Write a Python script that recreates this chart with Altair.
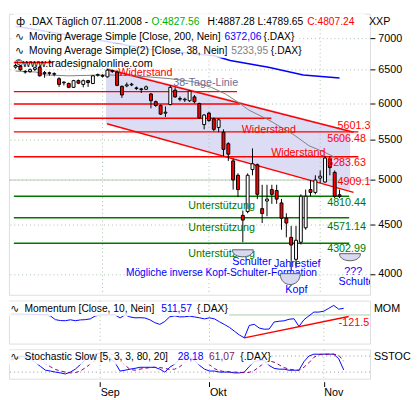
import altair as alt
import pandas as pd

FONT = "Liberation Sans"
ICON_FONT = "DejaVu Sans"

# ---------------- data ----------------
opens = [6540, 6560, 6470, 6470, 6505, 6538, 6440, 6452, 6430, 6362,
         6300, 6290, 6233, 6333, 6276, 6333, 6290, 6415, 6410, 6391,
         6485, 6464, 6248, 6255, 6270, 6225, 6210, 6205, 6135, 6024,
         5970, 5862, 5983, 6191, 6070, 6050, 6038, 6093, 5997, 5705,
         5862, 5783, 5666, 5602, 5451, 5233, 5057, 4597, 4639, 5126,
         5185, 4671, 4757, 4888, 4877, 4735, 4566, 4363, 4141, 4313,
         4463, 4888, 4855, 5023, 4977, 5256, 5092, 4827.56]
highs = [6590, 6575, 6495, 6520, 6545, 6560, 6480, 6470, 6460, 6385,
         6325, 6305, 6345, 6350, 6350, 6345, 6420, 6440, 6430, 6510,
         6500, 6490, 6260, 6305, 6300, 6245, 6225, 6260, 6150, 6040,
         5985, 5956, 6262, 6233, 6100, 6080, 6190, 6120, 6010, 5850,
         5880, 5800, 5790, 5640, 5470, 5260, 5080, 4650, 5080, 5390,
         5200, 4944, 4944, 4944, 4944, 4780, 4620, 4483, 4483, 4833,
         4888, 5000, 5057, 5115, 5292, 5292, 5115, 4887.28]
lows = [6515, 6480, 6440, 6455, 6480, 6395, 6377, 6410, 6400, 6240,
        6262, 6220, 6225, 6280, 6233, 6240, 6280, 6395, 6380, 6380,
        6450, 6250, 6079, 6235, 6250, 6195, 6150, 6195, 5929, 5950,
        5836, 5809, 5970, 6080, 6030, 6020, 6020, 6000, 5780, 5640,
        5740, 5614, 5602, 5292, 5233, 4888, 4800, 4313, 4620, 5057,
        4778, 4514, 4587, 4725, 4725, 4443, 4363, 4029, 4057, 4290,
        4443, 4811, 4833, 4966, 4966, 5057, 4789, 4789.65]
closes = [6565, 6500, 6465, 6500, 6530, 6406, 6455, 6445, 6440, 6276,
          6310, 6233, 6333, 6295, 6333, 6305, 6406, 6425, 6400, 6493,
          6475, 6262, 6121, 6270, 6280, 6215, 6200, 6240, 6038, 5970,
          5849, 5875, 6233, 6093, 6060, 6060, 6177, 6024, 5796, 5836,
          5760, 5640, 5770, 5378, 5317, 5000, 4888, 4546, 5057, 5197,
          4833, 4618, 4778, 4833, 4778, 4566, 4514, 4284, 4333, 4811,
          4811, 4855, 5000, 5046, 5268, 5150, 4811, 4807.24]

momentum = [60, 80, 70, 50, 60, 40, 30, 20, -80, -360,
            -430, -440, -370, -440, -380, -360, -300, -80, 0, 10,
            20, 10, -230, 10, -150, -220, -210, -230, -370, -590,
            -720, -500, -140, -70, -150, -140, -90, -150, -220, -300,
            -220, -300, -520, -730, -950, -1240, -1530, -1752, -800, -720,
            -1000, -1090, -1080, -540, -480, -450, -330, -290, -880, -365,
            -70, 220, 220, 290, 510, 730, 440, 511.57]

stoch_k = [65, 72, 80, 78, 68, 55, 41, 27, 24, 20,
           17, 13, 20, 31, 48, 66, 80, 88, 90, 85,
           72, 55, 24, 27, 31, 34, 38, 38, 38, 38,
           31, 20, 38, 50, 68, 73, 72, 63, 45, 31,
           24, 24, 20, 20, 20, 17, 17, 20, 41, 59,
           63, 63, 45, 34, 31, 31, 27, 27, 27, 59,
           80, 87, 87, 87, 87, 87, 70, 28.18]
stoch_d = [68, 70, 72, 76, 78, 74, 64, 52, 40, 30,
           24, 20, 17, 18, 24, 36, 50, 64, 78, 86,
           88, 82, 62, 46, 30, 27, 31, 34, 37, 38,
           37, 34, 30, 31, 40, 55, 68, 74, 72, 62,
           48, 33, 25, 22, 21, 20, 19, 18, 19, 26,
           40, 54, 62, 57, 47, 37, 31, 28, 27, 38,
           55, 75, 85, 87, 87, 87, 83, 61.07]

month_pos = [18, 40, 63]
month_names = ["Sep", "Okt", "Nov"]
price_ticks = [4000, 4500, 5000, 5500, 6000, 6500, 7000]

ma38_idx = [0, 4.2, 6.1, 11, 18.9, 24.8, 32, 36.6, 40.5, 43.4, 45.8, 48.3, 52.3, 57.6, 60.7, 64, 67]
ma38_val = [6479, 6464, 6420, 6406, 6420, 6406, 6362, 6319, 6233, 6135, 6026, 5903, 5770, 5566, 5424, 5339, 5250]
ma200_idx = [0, 18.9, 27.3, 41.1, 44.4, 52.3, 59.5, 67]
ma200_val = [7209, 6952, 6826, 6719, 6643, 6538, 6420, 6372]

res_levels = [6612, 6170, 5990, 5790, 5606.48, 5283.63]
res_end = [7.7, 45.8, 46.4, 52.9, 70.9, 70.9]
sup_levels = [4810.44, 4571.14, 4302.99]
sup_end = [69.0, 69.0, 69.0]

chan_idx = [18.9, 69.9]
chan_upper = [6508, 5601]
chan_lower = [5717, 4855]
band_idx = [18.7, 69.2]
band_top = [6538, 5627]
band_bot = [5718, 4877]

mom_trend_idx = [47, 68]
mom_trend_val = [-1752, -121.5]

# ---------------- scales / helpers ----------------
XMIN, XMAX = -0.35, 72.3
RED, GREEN, BLUE = "#ff0000", "#007800", "#0000ff"
GRID = "#a9bfa9"
HDR = 10.5
xs = alt.Scale(domain=[XMIN, XMAX], nice=False, zero=False)
ys = alt.Scale(type="log", domain=[3806, 7425], nice=False, zero=False)
ms = alt.Scale(domain=[-2190, 1095], nice=False, zero=False)
ss = alt.Scale(domain=[-4.7, 104.7], nice=False, zero=False)

yax = alt.Axis(orient="right", values=price_ticks, format="d", title=None, domain=False,
               tickSize=5, tickColor="black", labelPadding=3, labelFont=FONT, labelFontSize=11,
               labelColor="black", grid=True, gridColor=GRID, gridDash=[1, 3])
label_expr = " : ".join(f"datum.value == {p} ? '{m}'" for p, m in zip(month_pos[:-1], month_names[:-1])) + f" : '{month_names[-1]}'"
xax = alt.Axis(values=month_pos, labelExpr=label_expr, title=None, domain=False, grid=False,
               tickSize=5, tickColor="black", labelAlign="left", labelBaseline="top", labelPadding=0,
               labelFont=FONT, labelFontSize=11, labelColor="black", offset=3)


def X(f):
    return alt.X(f, type="quantitative", scale=xs, axis=None)


def XS(f):
    return alt.X(f, type="quantitative", scale=xs, axis=xax)


def YP(f):
    return alt.Y(f, type="quantitative", scale=ys, axis=yax)


def YM(f):
    return alt.Y(f, type="quantitative", scale=ms, axis=None)


def YS(f):
    return alt.Y(f, type="quantitative", scale=ss, axis=None)


def texts(rows, xf, yf, align="left", size=11, clip=False, font=FONT):
    df = pd.DataFrame(rows, columns=["t", "x", "y", "col"])
    return alt.Chart(df).mark_text(align=align, baseline="middle", font=font, fontSize=size, clip=clip).encode(
        x=xf("x"), y=yf("y"), text="t:N", color=alt.Color("col:N", scale=None))


# ---------------- main price panel ----------------
n = len(closes)
candles = pd.DataFrame({"i": list(range(n)), "o": opens, "h": highs, "l": lows, "c": closes})

band = alt.Chart(pd.DataFrame({"i": band_idx, "top": band_top, "bot": band_bot})).mark_area(
    color="#dcdcf4").encode(x=X("i"), y=YP("bot"), y2=alt.Y2("top"))
vgrid = pd.DataFrame({"i": month_pos})
vgrid_main = alt.Chart(vgrid).mark_rule(color=GRID, strokeDash=[1, 3]).encode(x=X("i"))
line5000 = alt.Chart(pd.DataFrame({"v": [5000]})).mark_rule(color="#b8c8b8").encode(y=YP("v"))
hl = pd.DataFrame({"x1": [XMIN] * 9, "x2": res_end + sup_end, "v": res_levels + sup_levels,
                   "col": [RED] * 6 + [GREEN] * 3})
hlines = alt.Chart(hl).mark_rule(strokeWidth=1.5).encode(
    x=X("x1"), x2=alt.X2("x2"), y=YP("v"), color=alt.Color("col:N", scale=None))
ch = pd.DataFrame({"x1": [chan_idx[0]] * 2, "x2": [chan_idx[1]] * 2,
                   "v1": [chan_upper[0], chan_lower[0]], "v2": [chan_upper[1], chan_lower[1]]})
chan = alt.Chart(ch).mark_rule(color=RED, strokeWidth=1.5).encode(
    x=X("x1"), x2=alt.X2("x2"), y=YP("v1"), y2=alt.Y2("v2"))
ma38 = alt.Chart(pd.DataFrame({"i": ma38_idx, "v": ma38_val})).mark_line(
    color="#808080", strokeWidth=1).encode(x=X("i"), y=YP("v"))
ma200 = alt.Chart(pd.DataFrame({"i": ma200_idx, "v": ma200_val})).mark_line(
    color=BLUE, strokeWidth=1.5).encode(x=X("i"), y=YP("v"))
wicks = alt.Chart(candles).mark_rule(color="black", strokeWidth=1).encode(
    x=X("i"), y=YP("l"), y2=alt.Y2("h"))
bodies = alt.Chart(candles).mark_bar(size=3, stroke="black", strokeWidth=1).encode(
    x=X("i"), y=YP("o"), y2=alt.Y2("c"),
    fill=alt.condition("datum.c >= datum.o", alt.value("white"), alt.value(RED)))

hb = pd.DataFrame({"x1": [XMIN] * 3, "x2": [XMAX, 58.2, 59.5],
                   "y1": [7425, 7160, 6920], "y2": [7160, 6920, 6688]})
hboxes = alt.Chart(hb).mark_rect(color="white", opacity=0.85).encode(
    x=X("x1"), x2=alt.X2("x2"), y=YP("y1"), y2=alt.Y2("y2"))

hdr_icons = texts([
    ["ф", 0.1, 7274, "black"],
    ["∿", -0.1, 7032, "black"],
    ["∿", -0.1, 6795, "black"],
], X, YP, size=11, font=ICON_FONT)
hdr = texts([
    [".DAX Täglich  07.11.2008 -", 2.79, 7274, "black"],
    [f"O:{opens[-1]:.2f}", 28.12, 7274, "#00b000"],
    [f"H:{highs[-1]:.2f} L:{lows[-1]:.2f}", 39.7, 7274, "black"],
    [f"C:{closes[-1]:.2f}", 60.32, 7274, RED],
    ["Moving Average Simple [Close, 200, Nein]", 2.79, 7032, "black"],
    ["6372,06", 43.2, 7032, BLUE],
    ["{.DAX}", 51.3, 7032, "black"],
    ["Moving Average Simple(2) [Close, 38, Nein]", 2.79, 6795, "black"],
    ["5233,95", 44.6, 6795, "#808080"],
    ["{.DAX}", 52.8, 6795, "black"],
], X, YP, size=HDR)
xxp = texts([["XXP", 73.08, 7274, "black"]], X, YP, size=11)

ann = texts([
    ["©www.tradesignalonline.com", -0.15, 6590, "black"],
    ["Widerstand", 21.25, 6455, RED],
    ["38-Tage-Linie", 32.6, 6304, "#6e6e96"],
    ["Widerstand", 46.77, 5627, RED],
    ["Widerstand", 52.86, 5329, RED],
    ["5606.48", 64.45, 5513, RED],
    ["5283.63", 64.45, 5209, RED],
    ["4810.44", 64.45, 4735, GREEN],
    ["4571.14", 64.45, 4473, GREEN],
    ["4302.99", 64.45, 4245, GREEN],
    ["Unterstützung", 35.72, 4702, GREEN],
    ["Unterstützung", 35.72, 4463, GREEN],
    ["Unterstützung", 35.72, 4197, GREEN],
    ["Schulter", 44.81, 4110, BLUE],
    ["Jahrestief", 53.45, 4090, BLUE],
    ["Kopf", 55.8, 3850, BLUE],
    ["???", 67.98, 4022, BLUE],
], X, YP)
ann_long = texts([["Mögliche inverse Kopf-Schulter-Formation", 22.82, 4008, BLUE]], X, YP, size=10.5)
ann_clip = texts([
    ["5601.39", 66.6, 5691, RED],
    ["4909.12", 66.6, 4977, RED],
    ["Schulter", 66.8, 3920, BLUE],
], X, YP, clip=True)

bowl = "M-1,0C-1,0.9 1,0.9 1,0Z"
bowl_deep = "M-1,0C-1,1.45 1,1.45 1,0Z"
shoulders = alt.Chart(pd.DataFrame({"i": [47.0, 69.16], "v": [4236, 4197]})).mark_point(
    shape=bowl, size=460, filled=True, fill="#d8d8f0", stroke="#606060", strokeWidth=1, opacity=1
).encode(x=X("i"), y=YP("v"))
head = alt.Chart(pd.DataFrame({"i": [56.8], "v": [4002]})).mark_point(
    shape=bowl_deep, size=420, filled=True, fill="#d8d8f0", stroke="#606060", strokeWidth=1, opacity=1
).encode(x=X("i"), y=YP("v"))

main = alt.layer(band, vgrid_main, line5000, hlines, chan, ma38, ma200, wicks, bodies,
                 hboxes, hdr_icons, hdr, xxp, ann, ann_long, ann_clip, shoulders, head).properties(width=370, height=288)

# ---------------- momentum panel ----------------
mdf = pd.DataFrame({"i": list(range(n)), "m": momentum})
vgrid_m = alt.Chart(vgrid).mark_rule(color=GRID, strokeDash=[1, 3]).encode(x=X("i"))
zero_m = alt.Chart(pd.DataFrame({"v": [0]})).mark_rule(color="#a8cca8").encode(y=YM("v"))
mom_line = alt.Chart(mdf).mark_line(color=BLUE, strokeWidth=1).encode(x=X("i"), y=YM("m"))
mom_tr = alt.Chart(pd.DataFrame({"x1": [mom_trend_idx[0]], "x2": [mom_trend_idx[1]],
                                 "v1": [mom_trend_val[0]], "v2": [mom_trend_val[1]]})).mark_rule(
    color=RED, strokeWidth=1.5).encode(x=X("x1"), x2=alt.X2("x2"), y=YM("v1"), y2=alt.Y2("v2"))
mbox = alt.Chart(pd.DataFrame({"x1": [XMIN], "x2": [44.02], "y1": [1022], "y2": [-73]})).mark_rect(
    color="white", opacity=0.85).encode(x=X("x1"), x2=alt.X2("x2"), y=YM("y1"), y2=alt.Y2("y2"))
micon = texts([["∿", -0.1, 438, "black"]], X, YM, size=11, font=ICON_FONT)
mtxt = texts([
    ["Momentum [Close, 10, Nein]", 2.79, 438, "black"],
    ["511,57", 30.3, 438, BLUE],
    ["{.DAX}", 37.5, 438, "black"],
], X, YM, size=HDR)
mlab = texts([["MOM", 73.08, 438, "black"], ["-121.5", 66.0, -657, RED]], X, YM)
mom = alt.layer(vgrid_m, zero_m, mom_line, mom_tr, mbox, micon, mtxt, mlab).properties(width=370, height=44)

# ---------------- stochastic panel ----------------
sdf = pd.DataFrame({"i": list(range(n)), "k": stoch_k, "d": stoch_d})
vgrid_s = alt.Chart(vgrid).mark_rule(color=GRID, strokeDash=[1, 3]).encode(x=XS("i"))
lev = alt.Chart(pd.DataFrame({"v": [80, 20]})).mark_rule(color="#909090", strokeDash=[1, 3]).encode(y=YS("v"))
kline = alt.Chart(sdf).mark_line(color=BLUE, strokeWidth=1).encode(x=XS("i"), y=YS("k"))
dline = alt.Chart(sdf).mark_line(color="#800080", strokeWidth=1, strokeDash=[4, 3]).encode(x=XS("i"), y=YS("d"))
sbox = alt.Chart(pd.DataFrame({"x1": [XMIN], "x2": [52.27], "y1": [101.2], "y2": [48.2]})).mark_rect(
    color="white", opacity=0.85).encode(x=XS("x1"), x2=alt.X2("x2"), y=YS("y1"), y2=alt.Y2("y2"))
sicon = texts([["∿", -0.1, 76.5, "black"]], XS, YS, size=11, font=ICON_FONT)
stxt = texts([
    ["Stochastic Slow [5, 3, 3, 80, 20]", 2.79, 76.5, "black"],
    ["28,18", 33.62, 76.5, BLUE],
    ["61,07", 39.9, 76.5, "#7a1f5c"],
    ["{.DAX}", 46.18, 76.5, "black"],
], XS, YS, size=HDR)
slab = texts([["SSTOC", 73.08, 76.5, "black"]], XS, YS, size=11)
sto = alt.layer(vgrid_s, lev, kline, dline, sbox, sicon, stxt, slab).properties(width=370, height=30)

chart = alt.vconcat(main, mom, sto, spacing=4).properties(padding=0).configure_view(
    fill="#f4f4f4", stroke="black", strokeWidth=1).configure(background="white").configure_text(font=FONT)

chart.save("out.html", embed_options={"renderer": "svg", "actions": False})
